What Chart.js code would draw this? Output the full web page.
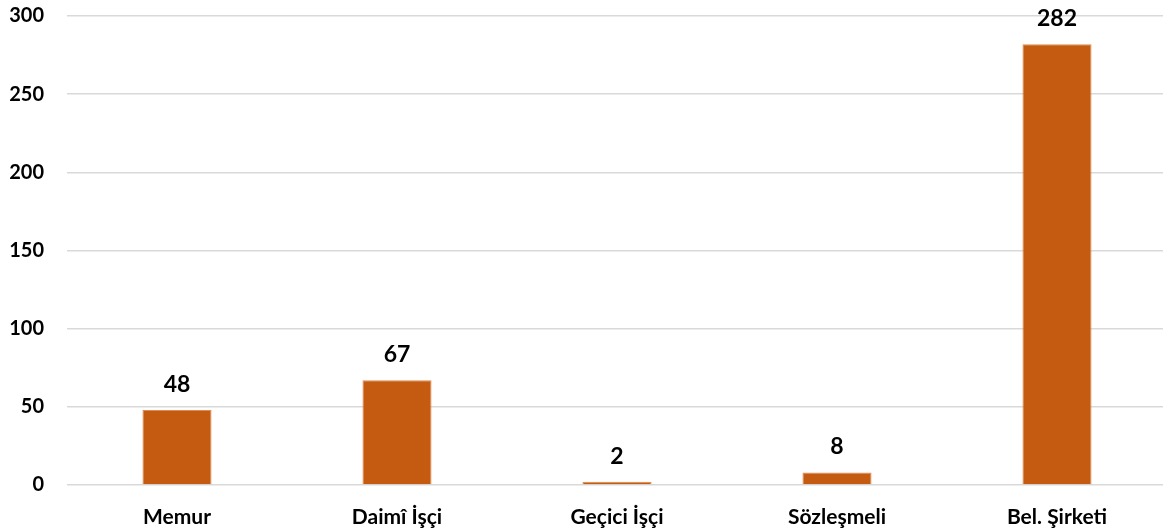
<!DOCTYPE html>
<html>
<head>
<meta charset="utf-8">
<script src="https://cdn.jsdelivr.net/npm/chart.js@4/dist/chart.umd.min.js"></script>
<style>
  html, body { margin: 0; padding: 0; background: #fff; overflow: hidden; }
  #wrap { width: 1167px; height: 530px; position: relative; }
</style>
</head>
<body>
<div id="wrap"><canvas id="barChart"></canvas></div>
<script>
const categories = ['Memur', 'Daimî İşçi', 'Geçici İşçi', 'Sözleşmeli', 'Bel. Şirketi'];
const values = [48, 67, 2, 8, 282];
const yTicks = [0, 50, 100, 150, 200, 250, 300];

const FONT = 'Lato, "Open Sans", sans-serif';

// draws the value above each bar
const valueLabels = {
    id: 'valueLabels',
    afterDatasetsDraw(chart) {
        const ctx = chart.ctx;
        const meta = chart.getDatasetMeta(0);
        ctx.save();
        ctx.font = 'bold 23px ' + FONT;
        ctx.fillStyle = '#000';
        ctx.textAlign = 'center';
        ctx.textBaseline = 'bottom';
        meta.data.forEach((bar, i) => {
            ctx.fillText(values[i], bar.x, bar.y - 14);
        });
        ctx.restore();
    }
};

const ctx = document.getElementById('barChart').getContext('2d');
new Chart(ctx, {
    type: 'bar',
    data: {
        labels: categories,
        datasets: [{
            data: values,
            backgroundColor: '#C55A11',
            borderColor: '#E08A4F',
            borderWidth: 1,
            barPercentage: 0.314,
            categoryPercentage: 1
        }]
    },
    options: {
        responsive: true,
        maintainAspectRatio: false,
        animation: false,
        layout: {
            padding: { left: 0, right: 0, top: 16, bottom: 0 }
        },
        plugins: {
            legend: { display: false },
            tooltip: { enabled: false }
        },
        scales: {
            x: {
                grid: { display: false },
                border: { display: false },
                ticks: {
                    color: '#000',
                    font: { family: FONT, size: 21, weight: 'bold' },
                    padding: 12
                },
                afterFit(scale) {
                    scale.height = 45;
                    scale.paddingLeft = 0;
                    scale.paddingRight = 0;
                }
            },
            y: {
                min: 0,
                max: 300,
                afterBuildTicks(scale) {
                    scale.ticks = yTicks.map(v => ({ value: v }));
                },
                grid: { color: '#D9D9D9', lineWidth: 1.5, drawTicks: false },
                border: { display: false },
                ticks: {
                    color: '#000',
                    font: { family: FONT, size: 20, weight: 'bold' },
                    padding: 23
                },
                afterFit(scale) {
                    scale.width = 67;
                    scale.paddingTop = 0;
                    scale.paddingBottom = 0;
                }
            }
        }
    },
    plugins: [valueLabels]
});
</script>
</body>
</html>
